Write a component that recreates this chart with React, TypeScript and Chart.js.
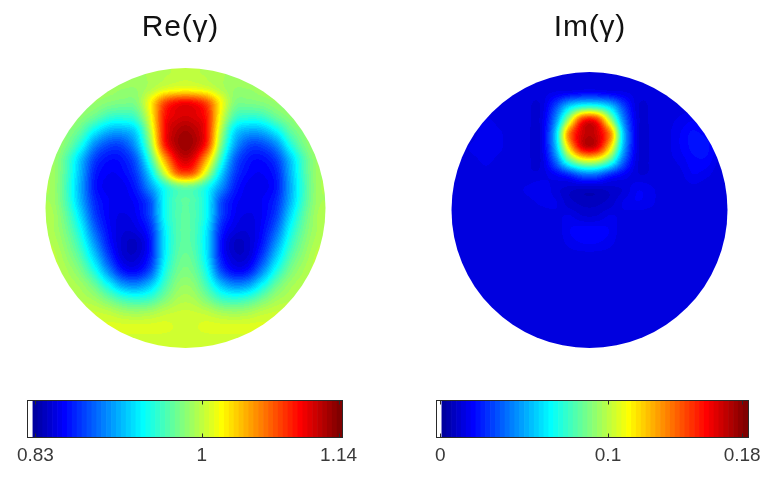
import React, { useEffect, useRef } from 'react';
import { Chart, registerables } from 'chart.js';
Chart.register(...registerables);

const N = null;
const GRID_X = [-0.95, -0.85, -0.75, -0.65, -0.55, -0.45, -0.35, -0.25, -0.15, -0.05, 0.05, 0.15, 0.25, 0.35, 0.45, 0.55, 0.65, 0.75, 0.85, 0.95];
const GRID_Y = [0.95, 0.85, 0.75, 0.65, 0.55, 0.45, 0.35, 0.25, 0.15, 0.05, -0.05, -0.15, -0.25, -0.35, -0.45, -0.55, -0.65, -0.75, -0.85, -0.95];

// Re(gamma) values on the grid (rows top -> bottom, columns left -> right)
const RE_GRID: (number | null)[][] = [
  [N, N, N, N, N, .991, .991, .994, .997, 1.001, 1.001, .997, .994, .991, .991, N, N, N, N, N],
  [N, N, N, .991, .991, .988, .988, .997, 1.010, 1.016, 1.016, 1.010, .997, .988, .988, .991, .991, N, N, N],
  [N, N, .991, .988, .982, .979, .982, 1.022, 1.078, 1.100, 1.100, 1.078, 1.022, .982, .979, .982, .988, .991, N, N],
  [N, .991, .985, .973, .957, .954, .963, 1.016, 1.094, 1.112, 1.112, 1.094, 1.016, .963, .954, .957, .973, .985, .991, N],
  [N, .985, .970, .939, .917, .914, .932, 1.001, 1.097, 1.125, 1.125, 1.097, 1.001, .932, .914, .917, .939, .970, .985, N],
  [.994, .979, .948, .904, .883, .883, .914, .985, 1.090, 1.128, 1.128, 1.090, .985, .914, .883, .883, .904, .948, .979, .994],
  [.991, .966, .923, .880, .864, .867, .892, .960, 1.047, 1.109, 1.109, 1.047, .960, .892, .867, .864, .880, .923, .966, .991],
  [.991, .963, .917, .870, .858, .861, .880, .932, 1.005, 1.072, 1.072, 1.005, .932, .880, .861, .858, .870, .917, .963, .991],
  [.991, .960, .914, .867, .855, .855, .870, .908, .948, .973, .973, .948, .908, .870, .855, .855, .867, .914, .960, .991],
  [.991, .963, .917, .873, .858, .855, .861, .886, .942, .966, .966, .942, .886, .861, .855, .858, .873, .917, .963, .991],
  [.994, .970, .929, .880, .858, .852, .858, .883, .942, .966, .966, .942, .883, .858, .852, .858, .880, .929, .970, .994],
  [.994, .976, .942, .892, .861, .849, .852, .873, .935, .966, .966, .935, .873, .852, .849, .861, .892, .942, .976, .994],
  [.997, .982, .954, .908, .867, .846, .842, .867, .932, .966, .966, .932, .867, .842, .846, .867, .908, .954, .982, .997],
  [1.001, .988, .966, .926, .880, .849, .846, .870, .935, .970, .970, .935, .870, .846, .849, .880, .926, .966, .988, 1.001],
  [1.001, .994, .979, .948, .904, .867, .861, .886, .945, .976, .976, .945, .886, .861, .867, .904, .948, .979, .994, 1.001],
  [N, .997, .991, .973, .942, .911, .904, .923, .960, .985, .985, .960, .923, .904, .911, .942, .973, .991, .997, N],
  [N, 1.001, .997, .991, .976, .960, .954, .960, .979, .994, .994, .979, .960, .954, .960, .976, .991, .997, 1.001, N],
  [N, N, 1.004, 1.004, 1.001, .994, .991, .994, 1.001, 1.004, 1.004, 1.001, .994, .991, .994, 1.001, 1.004, 1.004, N, N],
  [N, N, N, 1.007, 1.010, 1.010, 1.010, 1.010, 1.010, 1.007, 1.007, 1.010, 1.010, 1.010, 1.010, 1.010, 1.007, N, N, N],
  [N, N, N, N, N, 1.004, 1.004, 1.004, 1.004, 1.004, 1.004, 1.004, 1.004, 1.004, 1.004, N, N, N, N, N],
];

// Im(gamma) values on the grid
const IM_GRID: (number | null)[][] = [
  [N, N, N, N, N, .013, .013, .013, .013, .014, .014, .013, .013, .013, .013, N, N, N, N, N],
  [N, N, N, .013, .013, .013, .014, .016, .018, .020, .020, .018, .016, .014, .013, .013, .013, N, N, N],
  [N, N, .013, .013, .013, .013, .013, .031, .058, .072, .072, .058, .031, .013, .013, .013, .014, .014, N, N],
  [N, .013, .016, .014, .013, .013, .014, .043, .099, .153, .153, .099, .043, .014, .013, .014, .016, .018, .014, N],
  [N, .014, .018, .016, .013, .013, .014, .054, .135, .167, .167, .135, .054, .014, .013, .014, .018, .022, .020, N],
  [.014, .016, .018, .016, .013, .013, .014, .050, .117, .162, .162, .117, .050, .014, .013, .014, .018, .022, .022, .016],
  [.013, .014, .016, .014, .013, .013, .013, .036, .076, .099, .099, .076, .036, .013, .013, .014, .016, .020, .020, .014],
  [.013, .013, .014, .013, .013, .013, .014, .018, .025, .036, .036, .025, .018, .013, .013, .013, .014, .018, .016, .013],
  [.013, .013, .013, .013, .014, .016, .018, .014, .011, .009, .009, .011, .013, .018, .016, .013, .013, .014, .013, .013],
  [.013, .013, .013, .013, .014, .014, .016, .016, .011, .009, .009, .011, .016, .018, .016, .013, .013, .013, .013, .013],
  [.013, .013, .013, .013, .013, .013, .013, .014, .016, .013, .013, .016, .014, .013, .013, .013, .013, .013, .013, .013],
  [.013, .013, .013, .013, .013, .013, .013, .013, .018, .020, .020, .018, .013, .013, .013, .013, .013, .013, .013, .013],
  [.013, .013, .013, .013, .013, .013, .013, .013, .016, .018, .018, .016, .013, .013, .013, .013, .013, .013, .013, .013],
  [.013, .013, .013, .013, .013, .013, .013, .013, .013, .013, .013, .013, .013, .013, .013, .013, .013, .013, .013, .013],
  [.013, .013, .013, .013, .013, .013, .013, .013, .013, .013, .013, .013, .013, .013, .013, .013, .013, .013, .013, .013],
  [N, .013, .013, .013, .013, .013, .013, .013, .013, .013, .013, .013, .013, .013, .013, .013, .013, .013, .013, N],
  [N, .013, .013, .013, .013, .013, .013, .013, .013, .013, .013, .013, .013, .013, .013, .013, .013, .013, .013, N],
  [N, N, .013, .013, .013, .013, .013, .013, .013, .013, .013, .013, .013, .013, .013, .013, .013, .013, N, N],
  [N, N, N, .013, .013, .013, .013, .013, .013, .013, .013, .013, .013, .013, .013, .013, .013, N, N, N],
  [N, N, N, N, N, .013, .013, .013, .013, .013, .013, .013, .013, .013, .013, N, N, N, N, N],
];

const RE_RANGE = [0.8224, 1.1435];
const IM_RANGE = [-0.002, 0.1835];
const RE_TICKS = [0.83, 1, 1.14];
const IM_TICKS = [0, 0.1, 0.18];
const RE_TITLE = 'Re(\u03B3)';
const IM_TITLE = 'Im(\u03B3)';

const FONT = "'Liberation Sans', Arial, Helvetica, sans-serif";

// MATLAB jet(64) with the first entry white
function makeCmap(): number[][] {
  const u: number[] = [];
  for (let i = 1; i <= 16; i++) u.push(i / 16);
  for (let i = 0; i < 15; i++) u.push(1);
  for (let i = 16; i >= 1; i--) u.push(i / 16);
  const J = Array.from({ length: 64 }, () => [0, 0, 0]);
  for (let i = 0; i < u.length; i++) {
    const g = 9 + i;
    const r = g + 16;
    const b = g - 16;
    if (g >= 1 && g <= 64) J[g - 1][1] = u[i];
    if (r >= 1 && r <= 64) J[r - 1][0] = u[i];
    if (b >= 1 && b <= 64) J[b - 1][2] = u[i];
  }
  const out = J.map((c) => c.map((v) => Math.round(v * 255)));
  out[0] = [255, 255, 255];
  return out;
}
const CMAP = makeCmap();

function cr(p0: number, p1: number, p2: number, p3: number, t: number) {
  return p1 + 0.5 * t * (p2 - p0 + t * (2 * p0 - 5 * p1 + 4 * p2 - p3 + t * (3 * (p1 - p2) + p3 - p0)));
}

const heatPlugin = {
  id: 'discHeat',
  beforeDatasetsDraw(chart: any) {
    const opt = chart.options.plugins.discHeat;
    if (!opt) return;
    const { ctx, chartArea: a, scales } = chart;
    const xs = scales.x;
    const ys = scales.y;
    const gx0: number[] = opt.gridX;
    const gy0: number[] = opt.gridY;
    const nx = gx0.length;
    const ny = gy0.length;
    let G: (number | null)[][] = Array.from({ length: ny }, () => new Array(nx).fill(null));
    for (const p of chart.data.datasets[0].data) {
      const i = gx0.indexOf(p.x);
      const j = gy0.indexOf(p.y);
      if (i >= 0 && j >= 0) G[j][i] = p.v;
    }
    for (let pass = 0; pass < 30; pass++) {
      let missing = false;
      const copy = G.map((r) => r.slice());
      for (let j = 0; j < ny; j++) {
        for (let i = 0; i < nx; i++) {
          if (G[j][i] != null) continue;
          let s = 0;
          let c = 0;
          for (let dj = -1; dj <= 1; dj++) {
            for (let di = -1; di <= 1; di++) {
              const jj = j + dj;
              const ii = i + di;
              if (jj < 0 || jj >= ny || ii < 0 || ii >= nx) continue;
              const v = G[jj][ii];
              if (v != null) { s += v; c++; }
            }
          }
          if (c > 0) copy[j][i] = s / c; else missing = true;
        }
      }
      G = copy;
      if (!missing) break;
    }
    const F = G as number[][];
    const at = (j: number, i: number) => F[Math.max(0, Math.min(ny - 1, j))][Math.max(0, Math.min(nx - 1, i))];
    const sample = (gx: number, gy: number) => {
      const ix = Math.floor(gx);
      const iy = Math.floor(gy);
      const fx = gx - ix;
      const fy = gy - iy;
      const rows: number[] = [];
      for (let m = -1; m <= 2; m++) {
        rows.push(cr(at(iy + m, ix - 1), at(iy + m, ix), at(iy + m, ix + 1), at(iy + m, ix + 2), fx));
      }
      return cr(rows[0], rows[1], rows[2], rows[3], fy);
    };
    const [vmin, vmax] = opt.range;
    const x0 = Math.floor(a.left);
    const y0 = Math.floor(a.top);
    const w = Math.ceil(a.right) - x0;
    const h = Math.ceil(a.bottom) - y0;
    const off = document.createElement('canvas');
    off.width = w;
    off.height = h;
    const octx = off.getContext('2d')!;
    const img = octx.createImageData(w, h);
    const cx = xs.getPixelForValue(0);
    const cy = ys.getPixelForValue(0);
    const rad = xs.getPixelForValue(1) - cx;
    const sx = gx0[1] - gx0[0];
    const sy = gy0[1] - gy0[0];
    for (let py = 0; py < h; py++) {
      for (let px = 0; px < w; px++) {
        const X = x0 + px + 0.5;
        const Y = y0 + py + 0.5;
        if ((X - cx) * (X - cx) + (Y - cy) * (Y - cy) > (rad + 2) * (rad + 2)) continue;
        const vx = xs.getValueForPixel(X);
        const vy = ys.getValueForPixel(Y);
        const v = sample((vx - gx0[0]) / sx, (vy - gy0[0]) / sy);
        let k = Math.floor(((v - vmin) / (vmax - vmin)) * 64);
        k = Math.max(1, Math.min(63, k));
        const c = CMAP[k];
        const o = (py * w + px) * 4;
        img.data[o] = c[0];
        img.data[o + 1] = c[1];
        img.data[o + 2] = c[2];
        img.data[o + 3] = 255;
      }
    }
    octx.putImageData(img, 0, 0);
    ctx.save();
    ctx.beginPath();
    ctx.arc(cx, cy, rad, 0, Math.PI * 2);
    ctx.clip();
    ctx.drawImage(off, x0, y0);
    ctx.restore();
  },
};

// panel title, placed above the plot box
const titlePlugin = {
  id: 'panelTitle',
  afterDraw(chart: any) {
    const opt = chart.options.plugins.panelTitle;
    if (!opt) return;
    const { ctx } = chart;
    ctx.save();
    ctx.font = `normal ${opt.size}px ${FONT}`;
    ctx.fillStyle = '#111';
    ctx.textAlign = 'center';
    ctx.textBaseline = 'alphabetic';
    try { (ctx as any).letterSpacing = opt.spacing + 'px'; } catch (e) { /* ignore */ }
    ctx.fillText(opt.text, opt.x + opt.spacing / 2, opt.baseline);
    ctx.restore();
  },
};

const framePlugin = {
  id: 'cbFrame',
  afterDatasetsDraw(chart: any) {
    const opt = chart.options.plugins.cbFrame;
    if (!opt) return;
    const { ctx, chartArea: a, scales } = chart;
    const L = Math.round(a.left) - 0.5;
    const R = Math.round(a.right) + 0.5;
    const T = Math.round(a.top) - 0.5;
    const B = Math.round(a.bottom) + 0.5;
    ctx.save();
    ctx.strokeStyle = '#2a2a2a';
    ctx.lineWidth = 1;
    ctx.strokeRect(L, T, R - L, B - T);
    ctx.beginPath();
    for (const v of opt.ticks) {
      const px = Math.round(scales.x.getPixelForValue(v)) + 0.5;
      ctx.moveTo(px, T);
      ctx.lineTo(px, T + 4);
      ctx.moveTo(px, B);
      ctx.lineTo(px, B - 4);
    }
    ctx.stroke();
    ctx.restore();
  },
};

function toCells(grid: (number | null)[][]) {
  const out: { x: number; y: number; v: number }[] = [];
  grid.forEach((row, j) =>
    row.forEach((v, i) => {
      if (v != null) out.push({ x: GRID_X[i], y: GRID_Y[j], v });
    })
  );
  return out;
}

type DiscProps = {
  grid: (number | null)[][];
  range: number[];
  title: string;
  titleX: number;
  left: number;
  width: number;
  height: number;
  pad: { left: number; right: number; top: number; bottom: number };
};

function DiscChart(p: DiscProps) {
  const ref = useRef<HTMLCanvasElement>(null);
  useEffect(() => {
    const chart = new Chart(ref.current!, {
      type: 'scatter',
      data: { datasets: [{ data: toCells(p.grid) as any, pointRadius: 0, pointHoverRadius: 0 }] },
      options: {
        animation: false,
        responsive: false,
        devicePixelRatio: 1,
        events: [],
        layout: { padding: p.pad },
        plugins: {
          legend: { display: false },
          tooltip: { enabled: false },
          title: { display: false },
          discHeat: { gridX: GRID_X, gridY: GRID_Y, range: p.range },
          panelTitle: { text: p.title, x: p.titleX, baseline: 36, size: 30, spacing: 0.8 },
        } as any,
        scales: {
          x: { type: 'linear', min: -1, max: 1, display: false },
          y: { type: 'linear', min: -1, max: 1, display: false },
        },
      },
      plugins: [heatPlugin as any, titlePlugin as any],
    });
    return () => chart.destroy();
  }, []);
  return (
    <canvas
      ref={ref}
      width={p.width}
      height={p.height}
      style={{ position: 'absolute', left: p.left, top: 0, width: p.width, height: p.height }}
    />
  );
}

type BarProps = {
  range: number[];
  ticks: number[];
  left: number;
  top: number;
  width: number;
  height: number;
  pad: { left: number; right: number; top: number; bottom: number };
};

function ColorbarChart(p: BarProps) {
  const ref = useRef<HTMLCanvasElement>(null);
  useEffect(() => {
    const [vmin, vmax] = p.range;
    const step = (vmax - vmin) / CMAP.length;
    const bands = CMAP.map((_, k) => ({ x: vmin + (k + 0.5) * step, y: 1 }));
    const colors = CMAP.map((c) => `rgb(${c[0]},${c[1]},${c[2]})`);
    const chart = new Chart(ref.current!, {
      type: 'bar',
      data: {
        datasets: [
          {
            data: bands as any,
            backgroundColor: colors,
            borderWidth: 0,
            barPercentage: 1,
            categoryPercentage: 1,
          },
        ],
      },
      options: {
        animation: false,
        responsive: false,
        devicePixelRatio: 1,
        events: [],
        layout: { padding: p.pad },
        plugins: {
          legend: { display: false },
          tooltip: { enabled: false },
          cbFrame: { ticks: p.ticks },
        } as any,
        scales: {
          x: {
            type: 'linear',
            min: vmin,
            max: vmax,
            offset: false,
            grid: { display: false, drawTicks: false },
            border: { display: false },
            afterBuildTicks: (s: any) => {
              s.ticks = p.ticks.map((v) => ({ value: v }));
            },
            ticks: {
              autoSkip: false,
              maxRotation: 0,
              minRotation: 0,
              padding: 7,
              color: '#3a3a3a',
              font: { family: FONT, size: 19 },
              callback: (v: any) => String(v),
            },
          },
          y: { type: 'linear', min: 0, max: 1, display: false },
        },
      },
      plugins: [framePlugin as any],
    });
    return () => chart.destroy();
  }, []);
  return (
    <canvas
      ref={ref}
      width={p.width}
      height={p.height}
      style={{ position: 'absolute', left: p.left, top: p.top, width: p.width, height: p.height }}
    />
  );
}

export default function App() {
  return (
    <div style={{ position: 'absolute', left: 0, top: 0, width: 768, height: 477, background: '#fff', overflow: 'hidden' }}>
      <DiscChart
        grid={RE_GRID}
        range={RE_RANGE}
        title={RE_TITLE}
        titleX={180}
        left={0}
        width={384}
        height={360}
        pad={{ left: 45.5, right: 58.5, top: 68, bottom: 12 }}
      />
      <DiscChart
        grid={IM_GRID}
        range={IM_RANGE}
        title={IM_TITLE}
        titleX={205.5}
        left={384}
        width={384}
        height={360}
        pad={{ left: 67.5, right: 40.5, top: 72, bottom: 12 }}
      />
      <ColorbarChart
        range={RE_RANGE}
        ticks={RE_TICKS}
        left={0}
        top={380}
        width={384}
        height={97}
        pad={{ left: 28, right: 42, top: 21, bottom: 3.2 }}
      />
      <ColorbarChart
        range={IM_RANGE}
        ticks={IM_TICKS}
        left={384}
        top={380}
        width={384}
        height={97}
        pad={{ left: 53, right: 20, top: 21, bottom: 3.2 }}
      />
    </div>
  );
}
